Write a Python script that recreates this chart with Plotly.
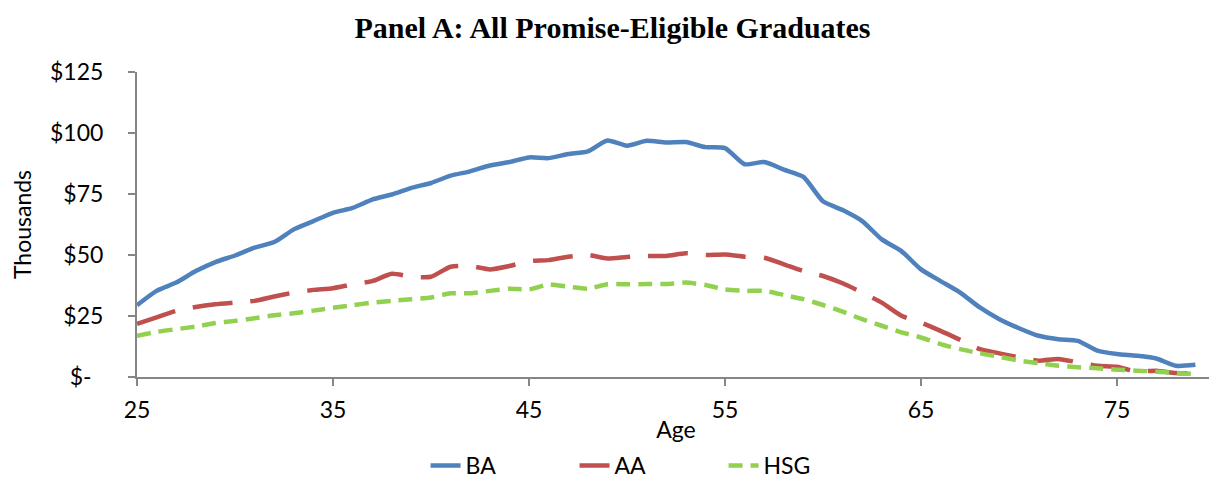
import plotly.graph_objects as go

# Idade (25 a 79)
idades = list(range(25, 80))

# Rendimento medio (milhares de US$)
ba = [29.4, 35.3, 38.7, 43.4, 47.1, 49.8, 53.0, 55.3, 60.5, 63.9,
      67.3, 69.3, 72.7, 74.8, 77.5, 79.5, 82.5, 84.3, 86.7, 88.1,
      90.0, 89.7, 91.4, 92.5, 96.9, 94.8, 96.8, 96.1, 96.3, 94.2,
      93.8, 87.2, 88.1, 85.0, 82.0, 72.0, 68.4, 63.9, 56.4, 51.6,
      44.1, 39.3, 34.6, 28.5, 23.7, 20.0, 16.9, 15.5, 14.8, 10.8,
      9.4, 8.7, 7.6, 4.6, 5.0]
aa = [21.8, 24.4, 27.1, 28.7, 29.8, 30.5, 31.2, 33.0, 34.6, 35.7,
      36.4, 38.0, 39.3, 42.3, 41.1, 41.1, 45.2, 45.5, 44.1, 45.5,
      47.5, 47.9, 49.3, 50.0, 48.6, 49.2, 49.6, 49.6, 50.7, 50.0,
      50.2, 49.3, 48.9, 46.2, 43.4, 41.4, 38.4, 34.6, 30.5, 25.1,
      22.3, 18.9, 15.2, 11.4, 9.7, 8.0, 6.7, 7.4, 6.0, 4.6,
      4.2, 2.2, 2.6, 1.6, 1.5]
hsg = [16.9, 18.5, 19.6, 20.7, 22.1, 23.0, 24.1, 25.3, 26.1, 27.2,
       28.4, 29.4, 30.5, 31.2, 31.9, 32.6, 34.3, 34.3, 35.3, 36.2,
       35.9, 37.9, 37.0, 36.2, 38.0, 38.0, 38.1, 38.1, 38.7, 37.7,
       35.9, 35.3, 35.3, 33.6, 31.9, 29.5, 26.8, 23.7, 21.0, 18.3,
       16.2, 13.5, 11.4, 9.7, 8.3, 6.7, 5.7, 4.6, 4.0, 3.6,
       3.0, 2.6, 2.2, 1.6, 1.2]

y_ticks = [0, 25, 50, 75, 100, 125]
y_labels = ['$-  ', '$25', '$50', '$75', '$100', '$125']
x_ticks = [25, 35, 45, 55, 65, 75]

CORES = {
    'ba': '#4F81BD',
    'aa': '#C0504D',
    'hsg': '#92D050',
    'eixo': '#868686',
}

fonte = 'Lato, Open Sans, sans-serif'

fig = go.Figure()

fig.add_trace(go.Scatter(
    x=idades, y=ba, name='BA', mode='lines',
    line=dict(color=CORES['ba'], width=4.5, shape='spline', smoothing=0.6)
))
fig.add_trace(go.Scatter(
    x=idades, y=aa, name='AA', mode='lines',
    line=dict(color=CORES['aa'], width=4.5, shape='spline', smoothing=0.6,
              dash='40px,18px')
))
fig.add_trace(go.Scatter(
    x=idades, y=hsg, name='HSG', mode='lines',
    line=dict(color=CORES['hsg'], width=4.5, shape='spline', smoothing=0.6,
              dash='14px,8px')
))

# a pagina tem margem de 8px no body
fig.update_layout(
    title={
        'text': '<b>Panel A: All Promise-Eligible Graduates</b>',
        'x': 0.5, 'xanchor': 'center',
        'y': 0.96, 'yanchor': 'middle',
        'font': {'family': 'Liberation Serif, Times New Roman, serif',
                 'size': 30, 'color': 'black'}
    },
    width=1209, height=481,
    margin=dict(l=129, r=2, t=64, b=103),
    paper_bgcolor='white',
    plot_bgcolor='white',
    font=dict(family=fonte, size=23, color='black'),
    showlegend=True,
    legend=dict(orientation='h', x=0.475, xanchor='center',
                y=-0.29, yanchor='middle',
                font=dict(size=23), traceorder='normal',
                entrywidth=104),
)

fig.update_xaxes(
    range=[25, 80],
    tickmode='array', tickvals=x_ticks,
    showline=True, linecolor=CORES['eixo'], linewidth=2,
    ticks='outside', tickcolor=CORES['eixo'], ticklen=7, tickwidth=2,
    ticklabelstandoff=4,
    showgrid=False, zeroline=False,
    title=dict(text='Age', standoff=0, font=dict(size=23)),
)

fig.update_yaxes(
    range=[0, 125],
    tickmode='array', tickvals=y_ticks, ticktext=y_labels,
    showline=True, linecolor=CORES['eixo'], linewidth=2,
    ticks='outside', tickcolor=CORES['eixo'], ticklen=7, tickwidth=2,
    ticklabelstandoff=20,
    showgrid=False, zeroline=False,
    title=dict(text='Thousands', standoff=18, font=dict(size=23)),
)

fig.write_html('out.html')
